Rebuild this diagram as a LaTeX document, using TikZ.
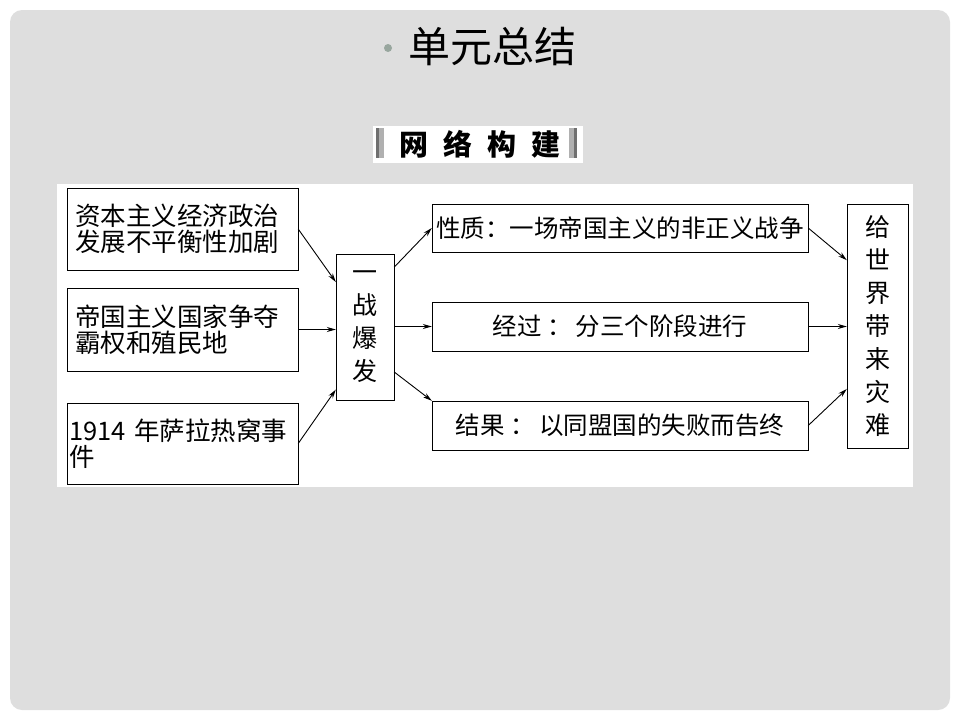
\documentclass[tikz,border=0pt]{standalone}
\usepackage{fontspec}
\setmainfont{Noto Sans CJK SC}
\usepackage{tikz}
\usetikzlibrary{arrows.meta}
\usetikzlibrary{calc}
\definecolor{slidegray}{HTML}{DEDEDE}
\definecolor{dotgray}{HTML}{98A69E}
\definecolor{bardark}{HTML}{707070}
\definecolor{barlight}{HTML}{B0B0B0}
\tikzstyle{cause} = [rectangle, minimum width=231, minimum height=82, text width=215, align=left, inner sep=0pt, draw=black, fill=white, font=\fontsize{25.5}{26}\selectfont]
\tikzstyle{fact} = [rectangle, minimum width=376, minimum height=49, align=center, inner sep=0pt, draw=black, fill=white, font=\fontsize{24.5}{25.5}\selectfont]
\tikzstyle{column} = [rectangle, minimum width=58, align=center, inner sep=0pt, draw=black, fill=white, font=\fontsize{25}{33}\selectfont]
\tikzstyle{arrow} = [line width=0.9pt,-{Stealth[length=9pt,width=5pt]}]

\begin{document}
\begin{tikzpicture}[x=1pt, y=-1pt]
\useasboundingbox (0,0) rectangle (960,720);
% slide
\fill[slidegray, rounded corners=12pt] (10,10) rectangle (950,710);
\fill[dotgray] (388,48) circle (4);
\node (title) at (492,46) {\fontsize{42}{42}\selectfont 单元总结};
% header
\fill[white] (373,126) rectangle (583,163);
\fill[bardark] (376,128) rectangle (379,158);
\fill[barlight] (379,128) rectangle (384,158);
\fill[barlight] (569,128) rectangle (574,158);
\fill[bardark] (574,128) rectangle (577,158);
\node (header) at (480,144) {\fontsize{29}{29}\selectfont\bfseries 网\hspace{15pt}络\hspace{15pt}构\hspace{15pt}建};
% panel
\fill[white] (57,184) rectangle (913,487);

\node (cause1) [cause] at (182.5,229) {资本主义经济政治\\发展不平衡性加剧};
\node (cause2) [cause, minimum height=83] at (182.5,329.5) {帝国主义国家争夺\\霸权和殖民地};
\node (cause3) [cause, minimum height=81, text width=227] at (182.5,443.5) {1914 年萨拉热窝事\\件};
\node (war) [column, minimum height=146] at (365,327) {一\\战\\爆\\发};
\node (nature) [fact, minimum height=48] at (620,228) {性质：一场帝国主义的非正义战争};
\node (course) [fact] at (620,326.5) {经过 ：\,分三个阶段进行};
\node (result) [fact] at (620,425.5) {结果 ：\,以同盟国的失败而告终};
\node (disaster) [column, minimum width=61, minimum height=244] at (877.5,326) {给\\世\\界\\带\\来\\灾\\难};

\draw [arrow] (cause1.east) -- (war.123);
\draw [arrow] (cause2.east) -- (war.west |- cause2.east);
\draw [arrow] (cause3.east) -- (war.245);
\draw [arrow] (war.64) -- (nature.west);
\draw [arrow] (war.east |- course.west) -- (course.west);
\draw [arrow] (war.-57) -- (result.north west);
\draw [arrow] (nature.east) -- (disaster.115);
\draw [arrow] (course.east) -- (disaster.west |- course.east);
\draw [arrow] (result.east) -- (disaster.244);
\end{tikzpicture}
\end{document}
